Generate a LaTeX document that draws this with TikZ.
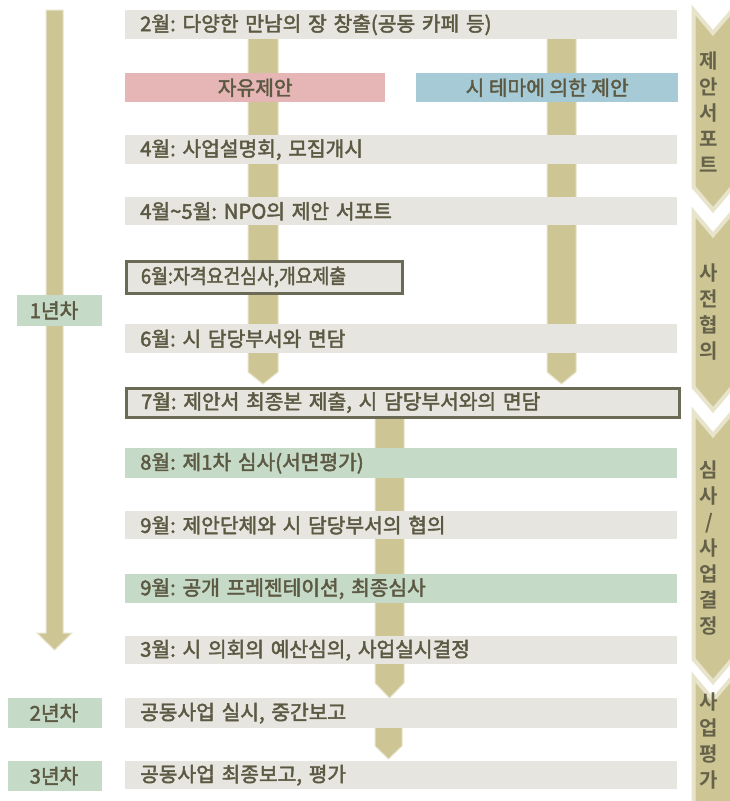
\documentclass[tikz,border=0pt]{standalone}
\usepackage{fontspec}
\setmainfont{Noto Sans CJK KR}[FakeBold=2.2, BoldFont={Noto Sans CJK KR Bold}, BoldFeatures={FakeBold=0}]
\frenchspacing
\definecolor{rowgray}{HTML}{E6E5DF}
\definecolor{rowpink}{HTML}{E6B5B6}
\definecolor{rowblue}{HTML}{A7CBD6}
\definecolor{rowgreen}{HTML}{C6DAC8}
\definecolor{olive}{HTML}{CDC594}
\definecolor{olivelight}{HTML}{E8E4CC}
\definecolor{txt}{HTML}{5C5943}
\definecolor{chevtxt}{HTML}{66624A}
\definecolor{frame}{HTML}{6B6A55}
\tikzset{
  rowbox/.style={anchor=north west, minimum width=552pt, minimum height=#1,
    text width=522pt, inner xsep=15pt, inner ysep=0pt, align=left,
    font=\fontsize{20.3}{22}\selectfont, text=txt},
  rowbox/.default=29pt,
  framed/.style={draw=frame, line width=3pt},
  lbl/.style={anchor=north west, minimum width=#1, minimum height=30pt, inner sep=0pt, fill=rowgreen},
  lbltext/.style={font=\fontsize{20.3}{22}\selectfont, text=txt, inner sep=0pt},
  shaft/.style={fill=olive, draw=olivelight, line width=1pt},
  chev/.style={fill=olive, draw=olivelight, line width=4pt, line join=miter},
  chevtext/.style={align=center, inner sep=0pt, text=chevtxt, font=\bfseries\fontsize{20}{26}\selectfont},
}
\begin{document}
\begin{tikzpicture}[x=1pt,y=-1pt]
\useasboundingbox (0,0) rectangle (730,801);
\clip (0,0) rectangle (730,801);
\fill[white] (0,0) rectangle (730,801);

% long timeline arrow
\draw[shaft] (46,10) -- (46,633) -- (37,633) -- (54.5,650) -- (72,633) -- (63,633) -- (63,10) -- cycle;

% vertical flow bars (behind rows)
\draw[shaft] (248,30) -- (248,372) -- (263,384) -- (278,372) -- (278,30) -- cycle;
\draw[shaft] (547,30) -- (547,372) -- (561.5,384) -- (576,372) -- (576,30) -- cycle;
\draw[shaft] (375,410) -- (375,683) -- (389.5,698) -- (404,683) -- (404,410) -- cycle;
\draw[shaft] (375,720) -- (375,746) -- (388.5,759) -- (402,746) -- (402,720) -- cycle;

% rows
\node[rowbox, fill=rowgray] (r1) at (125,10) {2월: 다양한 만남의 장 창출(공동 카페 등)};
\node[anchor=north west, minimum width=260pt, minimum height=29pt, inner sep=0pt, fill=rowpink,
  font=\fontsize{20.3}{22}\selectfont, text=txt] (free) at (125,73) {자유제안};
\node[anchor=north west, minimum width=262pt, minimum height=29pt, inner sep=0pt, fill=rowblue,
  font=\fontsize{20.3}{22}\selectfont, text=txt] (theme) at (416,73) {시 테마에 의한 제안};
\node[rowbox, fill=rowgray] (r3) at (125,135) {4월: 사업설명회, 모집개시};
\node[rowbox=28pt, fill=rowgray] (r4) at (125,197) {4월\char`\~5월: NPO의 제안 서포트};
\node[rowbox=32pt, framed, fill=rowgray, minimum width=276pt, text width=246pt] (r5) at (124.5,259.5)
  {\scalebox{0.9}[1]{6월:자격요건심사,개요제출}};
\node[rowbox, fill=rowgray] (r6) at (125,324) {6월: 시 담당부서와 면담};
\node[rowbox, framed, fill=rowgray, minimum width=553pt, text width=523pt] (r7) at (124.5,386.5)
  {7월: 제안서 최종본 제출, 시 담당부서와의 면담};
\node[rowbox=30pt, fill=rowgreen] (r8) at (125,448) {8월: 제1차 심사(서면평가)};
\node[rowbox=28pt, fill=rowgray] (r9) at (125,511) {9월: 제안단체와 시 담당부서의 협의};
\node[rowbox, fill=rowgreen] (r10) at (125,574) {9월: 공개 프레젠테이션, 최종심사};
\node[rowbox=28pt, fill=rowgray] (r11) at (125,636) {3월: 시 의회의 예산심의, 사업실시결정};
\node[rowbox=30pt, fill=rowgray] (r12) at (125,698) {공동사업 실시, 중간보고};
\node[rowbox=28pt, fill=rowgray] (r13) at (125,761) {공동사업 최종보고, 평가};

% year labels
\node[lbl=85pt, minimum height=31pt] (y1) at (17,295) {};
\node[lbltext] (y1t) at (54,310.5) {1년차};
\node[lbl=94pt] (y2) at (8,698) {};
\node[lbltext] (y2t) at (54,713) {2년차};
\node[lbl=94pt] (y3) at (8,761) {};
\node[lbltext] (y3t) at (54,776) {3년차};

% phase chevrons
\draw[chev] (693.5,10) -- (713,33) -- (732.5,10) -- (732.5,187) -- (713,210) -- (693.5,187) -- cycle;
\draw[chev] (693.5,212) -- (713,235) -- (732.5,212) -- (732.5,387) -- (713,410) -- (693.5,387) -- cycle;
\draw[chev] (693.5,412) -- (713,435) -- (732.5,412) -- (732.5,659) -- (713,682) -- (693.5,659) -- cycle;
\draw[chev] (693.5,677) -- (713,700) -- (732.5,677) -- (732.5,820) -- (713,843) -- (693.5,820) -- cycle;
\node[chevtext] (c1) at (709,112) {제\\안\\서\\포\\트};
\node[chevtext] (c2) at (709,312.5) {사\\전\\협\\의};
\node[chevtext] (c3) at (709,548) {심\\사\\/\\사\\업\\결\\정};
\node[chevtext] (c4) at (709,741) {사\\업\\평\\가};
\end{tikzpicture}
\end{document}
